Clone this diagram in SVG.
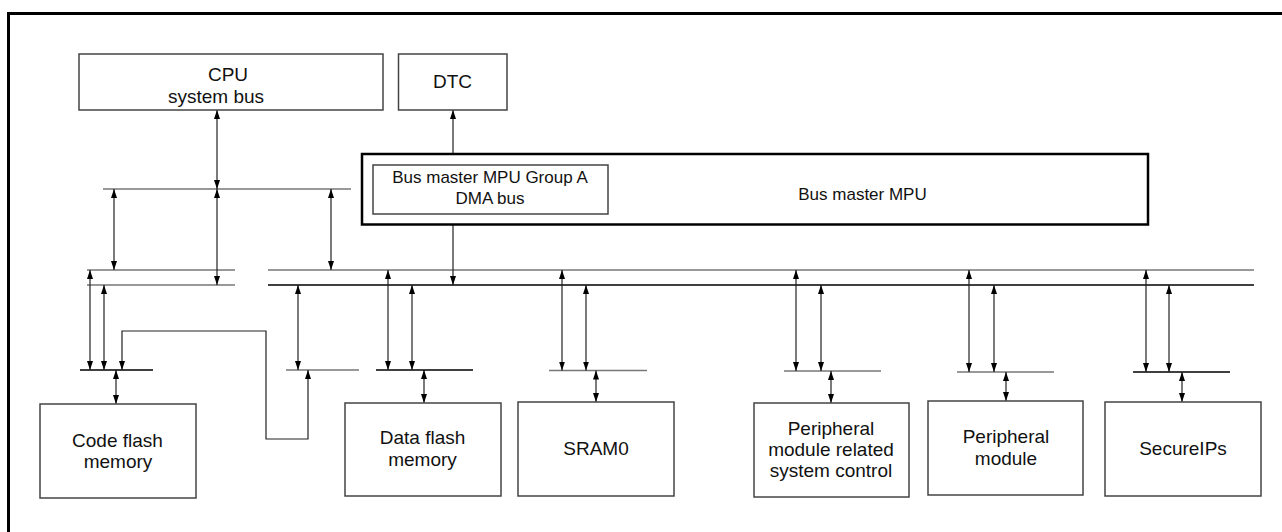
<svg xmlns="http://www.w3.org/2000/svg" width="1282" height="532" viewBox="0 0 1282 532">
<defs>
<marker id="ah" viewBox="0 0 9 6" refX="9" refY="3" markerWidth="9" markerHeight="6" markerUnits="userSpaceOnUse" orient="auto-start-reverse">
<path d="M0,0 L9,3 L0,6 z" fill="#000"/>
</marker>
<style>
.box{fill:#fff;stroke:#444;stroke-width:1.5}
.mpu{fill:#fff;stroke:#000;stroke-width:2.5}
.lbl{font-family:"Liberation Sans",Arial,sans-serif;font-size:19px;fill:#111;text-anchor:middle}
.sm{font-size:17px}
.bus{stroke:#777;stroke-width:1.5;fill:none}
.busk{stroke:#000;stroke-width:1.3;fill:none}
.ar{stroke:#222;stroke-width:1.2;fill:none;marker-start:url(#ah);marker-end:url(#ah)}
.ae{stroke:#222;stroke-width:1.2;fill:none;marker-end:url(#ah)}
</style>
</defs>
<rect width="1282" height="532" fill="#fff"/>
<path d="M8.5,532 V13.5 H1282" fill="none" stroke="#000" stroke-width="3"/>

<g id="connectors">
<line class="bus" x1="103" y1="189" x2="351" y2="189"/>
<line class="bus" x1="87" y1="270" x2="235" y2="270"/>
<line class="bus" x1="87" y1="285" x2="235" y2="285"/>
<line class="bus" x1="268" y1="270" x2="1254" y2="270"/>
<line class="busk" x1="268" y1="285" x2="1254" y2="285"/>
<line class="busk" x1="80" y1="370" x2="153" y2="370"/>
<line class="bus" x1="286" y1="370" x2="359" y2="370"/>
<line class="busk" x1="376" y1="370" x2="473" y2="370"/>
<line class="bus" x1="549" y1="370.5" x2="647" y2="370.5"/>
<line class="bus" x1="784" y1="371" x2="881" y2="371"/>
<line class="bus" x1="957" y1="372" x2="1054" y2="372"/>
<line class="busk" x1="1133" y1="372" x2="1230" y2="372"/>

<line class="ar" x1="217" y1="110" x2="217" y2="189"/>
<line class="ar" x1="114" y1="189" x2="114" y2="270"/>
<line class="ar" x1="217" y1="189" x2="217" y2="285"/>
<line class="ar" x1="331" y1="189" x2="331" y2="270"/>
<line class="ae" x1="453" y1="165" x2="453" y2="110"/>
<line class="ae" x1="453" y1="214" x2="453" y2="285"/>

<line class="ar" x1="90" y1="270" x2="90" y2="370"/>
<line class="ar" x1="104" y1="285" x2="104" y2="370"/>
<path class="ar" d="M122,370 V331 H266 V439 H308 V370"/>
<line class="ar" x1="116" y1="370" x2="116" y2="404"/>
<line class="ar" x1="298" y1="285" x2="298" y2="370"/>

<line class="ar" x1="388" y1="270" x2="388" y2="370"/>
<line class="ar" x1="412" y1="285" x2="412" y2="370"/>
<line class="ar" x1="424" y1="370" x2="424" y2="403"/>

<line class="ar" x1="562" y1="270" x2="562" y2="370.5"/>
<line class="ar" x1="586" y1="285" x2="586" y2="370.5"/>
<line class="ar" x1="596" y1="370.5" x2="596" y2="402"/>

<line class="ar" x1="796" y1="270" x2="796" y2="371"/>
<line class="ar" x1="821" y1="285" x2="821" y2="371"/>
<line class="ar" x1="831" y1="371" x2="831" y2="403"/>

<line class="ar" x1="969" y1="270" x2="969" y2="372"/>
<line class="ar" x1="994" y1="285" x2="994" y2="372"/>
<line class="ar" x1="1006" y1="372" x2="1006" y2="401"/>

<line class="ar" x1="1146" y1="270" x2="1146" y2="372"/>
<line class="ar" x1="1169" y1="285" x2="1169" y2="372"/>
<line class="ar" x1="1182" y1="372" x2="1182" y2="402"/>
</g>

<g id="cpu">
<rect class="box" x="79" y="54" width="304" height="56"/>
<text class="lbl" x="228" y="81">CPU</text>
<text class="lbl" x="216" y="103">system bus</text>
</g>
<g id="dtc">
<rect class="box" x="398.5" y="54" width="108.5" height="56"/>
<text class="lbl" x="452.5" y="88">DTC</text>
</g>
<g id="bus-master-mpu">
<rect class="mpu" x="362" y="154" width="786" height="70.5"/>
<text class="lbl sm" x="862.5" y="200">Bus master MPU</text>
</g>
<g id="group-a">
<rect class="box" x="373" y="165" width="235" height="49"/>
<text class="lbl sm" x="490" y="183">Bus master MPU Group A</text>
<text class="lbl sm" x="490" y="204">DMA bus</text>
</g>
<g id="code-flash">
<rect class="box" x="40" y="404" width="156" height="94"/>
<text class="lbl" x="117.5" y="447">Code flash</text>
<text class="lbl" x="118" y="468">memory</text>
</g>
<g id="data-flash">
<rect class="box" x="345" y="403" width="156" height="93"/>
<text class="lbl" x="422.5" y="444">Data flash</text>
<text class="lbl" x="422.5" y="466">memory</text>
</g>
<g id="sram0">
<rect class="box" x="518" y="402" width="156" height="94"/>
<text class="lbl" x="596" y="455">SRAM0</text>
</g>
<g id="periph-sysctrl">
<rect class="box" x="754" y="403" width="155" height="94"/>
<text class="lbl" x="831" y="435">Peripheral</text>
<text class="lbl" x="831" y="456">module related</text>
<text class="lbl" x="831" y="477">system control</text>
</g>
<g id="periph-module">
<rect class="box" x="928" y="401" width="155" height="94"/>
<text class="lbl" x="1006" y="443">Peripheral</text>
<text class="lbl" x="1006" y="465">module</text>
</g>
<g id="secureips">
<rect class="box" x="1105" y="402" width="156" height="94"/>
<text class="lbl" x="1183" y="455">SecureIPs</text>
</g>
</svg>
